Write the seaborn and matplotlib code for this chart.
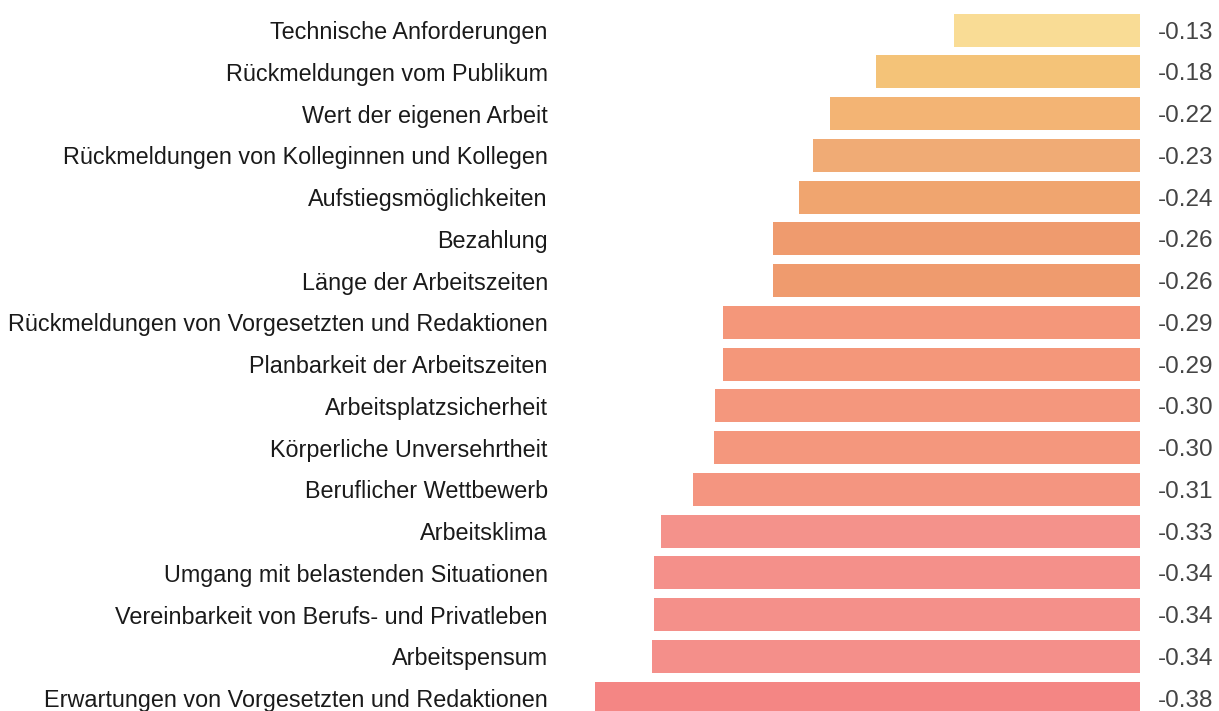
import numpy as np
import pandas as pd
import matplotlib
matplotlib.use("Agg")
import matplotlib.pyplot as plt
import seaborn as sns

# data
labels = [
    "Technische Anforderungen",
    "Rückmeldungen vom Publikum",
    "Wert der eigenen Arbeit",
    "Rückmeldungen von Kolleginnen und Kollegen",
    "Aufstiegsmöglichkeiten",
    "Bezahlung",
    "Länge der Arbeitszeiten",
    "Rückmeldungen von Vorgesetzten und Redaktionen",
    "Planbarkeit der Arbeitszeiten",
    "Arbeitsplatzsicherheit",
    "Körperliche Unversehrtheit",
    "Beruflicher Wettbewerb",
    "Arbeitsklima",
    "Umgang mit belastenden Situationen",
    "Vereinbarkeit von Berufs- und Privatleben",
    "Arbeitspensum",
    "Erwartungen von Vorgesetzten und Redaktionen",
]
values = [-0.130, -0.184, -0.216, -0.228, -0.238, -0.256, -0.256, -0.291, -0.291,
          -0.296, -0.297, -0.312, -0.334, -0.339, -0.339, -0.340, -0.380]
colors = ["#f9dc95", "#f4c378", "#f3b474", "#f0ab75", "#f0a56f", "#ef9b6e", "#ef9b6e",
          "#f4977a", "#f4977a", "#f4977d", "#f4977d", "#f49580", "#f4928b", "#f4908a",
          "#f4908a", "#f48f8a", "#f48684"]

df = pd.DataFrame({"label": labels, "value": values})

sns.set_style("white")
plt.rcParams["font.family"] = ["Liberation Sans", "DejaVu Sans"]

W, H = 1219, 711
fig = plt.figure(figsize=(W / 100, H / 100), dpi=100)
ax = fig.add_axes([595 / W, 0, (1140 - 595) / W, 1])

sns.barplot(data=df, x="value", y="label", hue="label", palette=colors, saturation=1,
            legend=False, orient="h", width=0.79, linewidth=0, ax=ax)

ax.set_xlim(-0.38, 0)
ax.set_ylim(16.31, -0.72)
ax.set_xlabel("")
ax.set_ylabel("")
ax.set_xticks([])
ax.tick_params(axis="y", length=0, pad=34, labelsize=16.8, labelcolor="#1a1a1a")
sns.despine(ax=ax, left=True, bottom=True)

for i, v in enumerate(values):
    ax.annotate(f"{v:.2f}", xy=(0, i), xytext=(13, 0), textcoords="offset points",
                ha="left", va="center_baseline", fontsize=17.5, color="#444444")

fig.savefig("out.png", dpi=100)
